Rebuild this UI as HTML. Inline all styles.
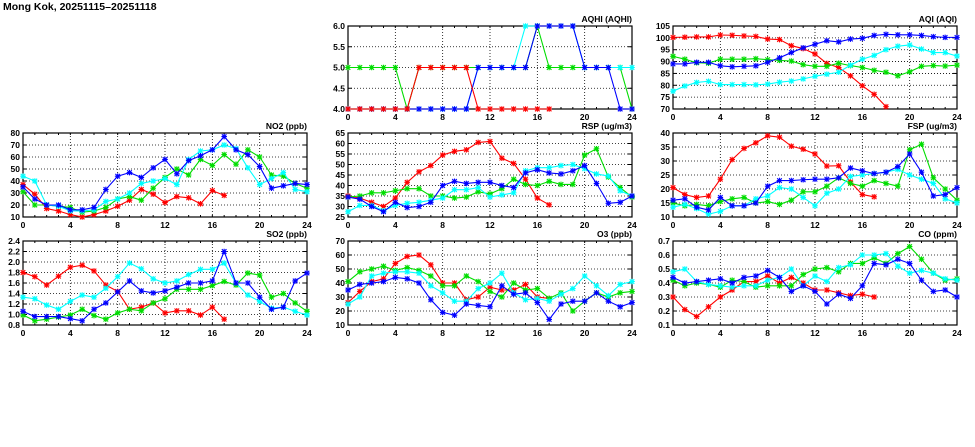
<!DOCTYPE html>
<html><head><meta charset="utf-8"><style>
html,body{margin:0;padding:0;background:#fff;width:975px;height:447px;overflow:hidden}
svg{display:block}
text{font-family:"Liberation Sans",sans-serif;font-weight:bold;fill:#000}
</style></head><body>
<svg id="c" width="975" height="447">
<text x="3" y="10" font-size="10.5" font-family="Liberation Serif">Mong Kok, 20251115–20251118</text>
</svg>
<script>
const hours = [0,1,2,3,4,5,6,7,8,9,10,11,12,13,14,15,16,17,18,19,20,21,22,23,24];
const xTicks = [0,4,8,12,16,20,24];
const seriesNames = ['red','green','cyan','blue'];
const seriesColors = ['#ff0000','#00dd00','#00ffff','#0000ff'];

const aqhiTicks = ['4.0','4.5','5.0','5.5','6.0'];
const aqhiRed = [4,4,4,4,4,4,5,5,5,5,5,4,4,4,4,4,4,4];
const aqhiGreen = [5,5,5,5,5,4,5,5,5,5,5,5,5,5,5,5,6,5,5,5,5,5,5,5,4];
const aqhiCyan = [4,4,4,4,4,4,4,4,4,4,4,5,5,5,5,6,6,6,6,6,5,5,5,5,5];
const aqhiBlue = [4,4,4,4,4,4,4,4,4,4,4,5,5,5,5,5,6,6,6,6,5,5,5,4,4];

const aqiTicks = ['70','75','80','85','90','95','100','105'];
const aqiRed = [100.2,100.3,100.4,100.4,101.2,101.1,100.8,100.6,99.5,99.3,96.7,95.5,93.2,89.2,87.5,84,79.8,76.2,71];
const aqiGreen = [92.2,91,89.5,89.3,91,91,91,91.2,90.8,90.5,90.2,88.7,88,88,89.3,88.3,87.5,86.3,85.5,84,85.7,88,88.3,88.1,88.5];
const aqiCyan = [77.5,79.7,81.2,81.7,80.3,80.3,80.3,80.2,80.5,81.3,81.8,82.7,83.8,84.7,85.5,88.5,91,92.6,95,96.5,97,95.3,93.8,93.8,92.3];
const aqiBlue = [89,89,89.7,89.7,88.2,87.8,88,88.2,89.7,91.6,93.8,95.8,97.3,98.8,98.3,99.5,99.8,101,101.5,101.3,101.3,101,100.5,100.2,100.2];

const no2Ticks = ['10','20','30','40','50','60','70','80'];
const no2Red = [37,29,17,15,12,10,12,15,19,24,33,29,22,27,26,21,32,28];
const no2Green = [31,20,20,19,18,14,15,18,25,27,24,34,43,50,45,58,53,62,54,66,60,45,44,38,34];
const no2Cyan = [44,40,20,19,15,15,16,23,25,30,38,40,42,37,58,65,66,70,67,51,37,42,47,33,31];
const no2Blue = [35,25,20,20,16,16,18,33,44,47,43,51,58,46,57,61,66,77,66,62,52,34,36,38,37];

const rspTicks = ['25','30','35','40','45','50','55','60','65'];
const rspRed = [35,34,32,30,34,41.5,46.5,49.5,54.5,56.3,57,60.5,61,53,50.5,43,34,30.8];
const rspGreen = [34.5,35,36.5,36.5,37.5,38.5,38.5,35,35,34,34.5,37,36,38.5,43,40.5,40,42,40.5,40.5,54.5,57.5,44,39,34.5];
const rspCyan = [27.5,30.5,30.5,28,30.5,31.5,32,33,34,38,38,39,34.5,35.5,36.5,47,48.5,48.5,49.5,50,48,45.5,44.5,37.5,35];
const rspBlue = [34.5,33.5,30,27.5,32,29.5,30,32,40,42,41,41.5,41.5,40,39,46,47.5,46,45.5,47,49.5,41,31.5,32,35];

const fspTicks = ['10','15','20','25','30','35','40'];
const fspRed = [20.5,18,17,17.5,23.5,30.5,34.5,36.5,39,38.5,35.3,34.2,32.5,28.2,28.3,22.5,18,17.2];
const fspGreen = [15,14,14.5,14,15.5,16.5,17,15,15.5,14.5,16,19,19,21,24,22,21,23,22,21,34,36,24,20,16];
const fspCyan = [13.5,14.5,13,11,12,14,14,16.5,17.5,20.5,20,17,14,18.5,20,24.5,25,25.5,26,27,25,23.5,22,16.5,15];
const fspBlue = [16,16.5,13.5,12.5,17,14,14,15,21,23,23,23.3,23.5,23.5,24,27.5,26.5,25.5,26,28,32.5,26,17.5,18,20.5];

const so2Ticks = ['0.8','1.0','1.2','1.4','1.6','1.8','2.0','2.2','2.4'];
const so2Red = [1.80,1.72,1.56,1.73,1.90,1.94,1.83,1.56,1.44,1.10,1.14,1.22,1.03,1.07,1.07,0.99,1.14,0.91];
const so2Green = [0.99,0.88,0.91,0.95,0.99,1.10,0.98,0.91,1.03,1.10,1.07,1.22,1.30,1.48,1.48,1.48,1.55,1.63,1.56,1.79,1.75,1.33,1.40,1.22,1.06];
const so2Cyan = [1.33,1.30,1.18,1.10,1.25,1.37,1.33,1.50,1.72,1.98,1.87,1.68,1.60,1.64,1.76,1.86,1.86,1.98,1.60,1.37,1.25,1.12,1.14,1.06,0.99];
const so2Blue = [1.06,0.96,0.96,0.96,0.92,0.88,1.10,1.22,1.43,1.64,1.45,1.41,1.45,1.52,1.60,1.60,1.64,2.20,1.60,1.60,1.33,1.10,1.14,1.64,1.79];

const o3Ticks = ['10','20','30','40','50','60','70'];
const o3Red = [26,34,41,43,54,59,60,53,40,40,28,30,37,35,35,39,30,29];
const o3Green = [41,48,50,52,49,51,49,45,38,38,45,41,34,30,40,35,36,29,33,20,27,33,30,33,34];
const o3Cyan = [25,30,45,47,48,48,47,38,33,27,27,36,40,47,33,28,29,27,32,36,45,38,31,39,41];
const o3Blue = [35,39,40,41,44,43,40,28,19,17,25,24,23,38,32,33,26,14,25,27,27,33,27,23,26];

const coTicks = ['0.1','0.2','0.3','0.4','0.5','0.6','0.7'];
const coRed = [0.30,0.21,0.16,0.23,0.30,0.35,0.41,0.41,0.45,0.40,0.44,0.40,0.35,0.35,0.33,0.31,0.32,0.30];
const coGreen = [0.42,0.38,0.40,0.39,0.37,0.42,0.41,0.37,0.38,0.38,0.38,0.46,0.50,0.51,0.48,0.54,0.54,0.58,0.54,0.61,0.66,0.57,0.47,0.42,0.43];
const coCyan = [0.48,0.50,0.41,0.39,0.38,0.37,0.38,0.38,0.42,0.44,0.50,0.38,0.45,0.41,0.51,0.53,0.60,0.60,0.61,0.52,0.47,0.49,0.47,0.43,0.42];
const coBlue = [0.44,0.40,0.41,0.42,0.43,0.40,0.44,0.45,0.49,0.44,0.34,0.38,0.34,0.25,0.32,0.29,0.38,0.54,0.53,0.57,0.54,0.42,0.34,0.35,0.30];

const NS='http://www.w3.org/2000/svg';
const svg=document.getElementById('c');
function mk(tag,attrs,parent){const e=document.createElementNS(NS,tag);for(const k in attrs)e.setAttribute(k,attrs[k]);(parent||svg).appendChild(e);return e;}

const panels=[
 {id:'aqhi',title:'AQHI (AQHI)',x0:348,x1:632,y0:26,y1:109,ticks:aqhiTicks,series:[aqhiRed,aqhiGreen,aqhiCyan,aqhiBlue],order:[1,2,3,0]},
 {id:'aqi',title:'AQI (AQI)',x0:673,x1:957,y0:26,y1:109,ticks:aqiTicks,series:[aqiRed,aqiGreen,aqiCyan,aqiBlue]},
 {id:'no2',title:'NO2 (ppb)',x0:23,x1:307,y0:133,y1:217,ticks:no2Ticks,series:[no2Red,no2Green,no2Cyan,no2Blue]},
 {id:'rsp',title:'RSP (ug/m3)',x0:348,x1:632,y0:133,y1:217,ticks:rspTicks,series:[rspRed,rspGreen,rspCyan,rspBlue]},
 {id:'fsp',title:'FSP (ug/m3)',x0:673,x1:957,y0:133,y1:217,ticks:fspTicks,series:[fspRed,fspGreen,fspCyan,fspBlue]},
 {id:'so2',title:'SO2 (ppb)',x0:23,x1:307,y0:241,y1:325,ticks:so2Ticks,series:[so2Red,so2Green,so2Cyan,so2Blue]},
 {id:'o3',title:'O3 (ppb)',x0:348,x1:632,y0:241,y1:325,ticks:o3Ticks,series:[o3Red,o3Green,o3Cyan,o3Blue]},
 {id:'co',title:'CO (ppm)',x0:673,x1:957,y0:241,y1:325,ticks:coTicks,series:[coRed,coGreen,coCyan,coBlue]}
];

panels.forEach(p=>{
 const g=mk('g',{});
 
 
 const tv=p.ticks.map(Number);
 const ymin=tv[0],ymax=tv[tv.length-1];
 const xs=h=>p.x0+(h/24)*(p.x1-p.x0);
 const ys=v=>p.y1-(v-ymin)/(ymax-ymin)*(p.y1-p.y0);
 tv.forEach((v,i)=>{
  if(i>0&&i<tv.length-1){const l=mk('line',{x1:p.x0,x2:p.x1,y1:ys(v),y2:ys(v),stroke:'#000','stroke-width':0.8,'stroke-dasharray':'1,2'},g);
   }
  const t=mk('text',{x:p.x0-3,y:ys(v)+3,'font-size':8.5,'text-anchor':'end'},g);t.textContent=p.ticks[i];
  
  mk('line',{x1:p.x0,x2:p.x0+4,y1:ys(v),y2:ys(v),stroke:'#000'},g);
  mk('line',{x1:p.x1,x2:p.x1-4,y1:ys(v),y2:ys(v),stroke:'#000'},g);
 });
 hours.forEach(h=>{
  mk('line',{x1:xs(h),x2:xs(h),y1:p.y1,y2:p.y1-2,stroke:'#000'},g);
  mk('line',{x1:xs(h),x2:xs(h),y1:p.y0,y2:p.y0+2,stroke:'#000'},g);
 });
 xTicks.forEach(h=>{
  if(h>0&&h<24){const l=mk('line',{x1:xs(h),x2:xs(h),y1:p.y0,y2:p.y1,stroke:'#000','stroke-width':0.8,'stroke-dasharray':'1,2'},g);
   }
  const t=mk('text',{x:xs(h),y:p.y1+11,'font-size':8.5,'text-anchor':'middle'},g);t.textContent=h;
  
 });
 const fr=mk('rect',{x:p.x0,y:p.y0,width:p.x1-p.x0,height:p.y1-p.y0,fill:'none',stroke:'#000','stroke-width':1.2},g);
 
 const tt=mk('text',{x:p.x1,y:p.y0-4,'font-size':8.5,'text-anchor':'end'},g);tt.textContent=p.title;
 
 const order=p.order||[0,1,2,3];
 order.forEach(si=>{
  const vals=p.series[si];
  const sg=mk('g',{},g);
  
  
  const col=seriesColors[si];
  const pts=vals.map((v,i)=>[xs(hours[i]),Math.max(p.y0,Math.min(p.y1,ys(v)))]);
  const pl=mk('polyline',{points:pts.map(q=>q.join(',')).join(' '),fill:'none',stroke:col,'stroke-width':1.1},sg);
  
  pts.forEach(q=>{
   const m=mk('path',{d:`M${q[0]-2.3},${q[1]-2.3}L${q[0]+2.3},${q[1]+2.3}M${q[0]-2.3},${q[1]+2.3}L${q[0]+2.3},${q[1]-2.3}M${q[0]-2.8},${q[1]}L${q[0]+2.8},${q[1]}M${q[0]},${q[1]-2.8}L${q[0]},${q[1]+2.8}`,stroke:col,'stroke-width':1.1,fill:'none'},sg);
   
  });
 });
});
</script>
</body></html>
